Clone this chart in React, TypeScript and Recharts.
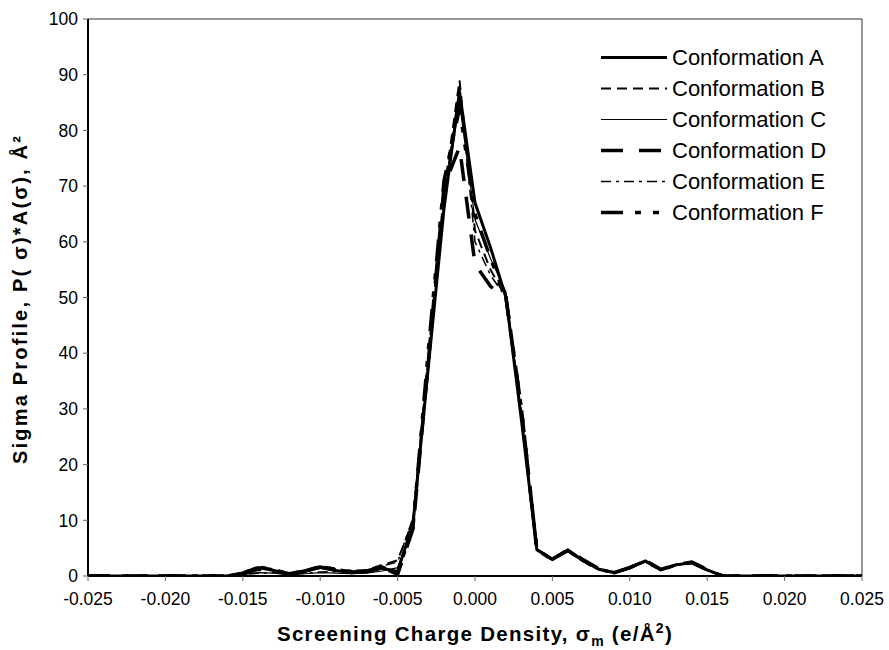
import React from "react";
import { LineChart, Line, XAxis, YAxis, ReferenceArea, Legend } from "recharts";

// Screening charge density (e/Å²), step 0.001
const sigma: number[] = [
  -0.025, -0.024, -0.023, -0.022, -0.021, -0.02, -0.019, -0.018, -0.017, -0.016,
  -0.015, -0.014, -0.013, -0.012, -0.011, -0.01, -0.009, -0.008, -0.007, -0.006,
  -0.005, -0.004, -0.003, -0.002, -0.001, 0, 0.001, 0.002, 0.003, 0.004,
  0.005, 0.006, 0.007, 0.008, 0.009, 0.01, 0.011, 0.012, 0.013, 0.014,
  0.015, 0.016, 0.017, 0.018, 0.019, 0.02, 0.021, 0.022, 0.023, 0.024, 0.025,
];

const confA: number[] = [
  0, 0, 0, 0, 0, 0, 0, 0, 0, 0,
  0.5, 1.5, 1.0, 0.3, 0.8, 1.5, 1.0, 0.6, 0.7, 1.4,
  0.8, 9.5, 38, 66, 87, 67, 59, 50, 28, 4.7,
  3.0, 4.6, 2.8, 1.2, 0.6, 1.5, 2.7, 1.1, 2.0, 2.4,
  1.1, 0, 0, 0, 0, 0, 0, 0, 0, 0, 0,
];
const confB: number[] = [
  0, 0, 0, 0, 0, 0, 0, 0, 0, 0,
  0.6, 1.7, 1.2, 0.5, 1.0, 1.8, 1.3, 0.9, 1.1, 2.0,
  2.8, 10, 40, 69, 89, 62, 55, 50, 29, 4.8,
  3.2, 4.4, 2.6, 1.2, 0.7, 1.4, 2.6, 1.2, 2.1, 2.3,
  1.0, 0, 0, 0, 0, 0, 0, 0, 0, 0, 0,
];
const confC: number[] = [
  0, 0, 0, 0, 0, 0, 0, 0, 0, 0,
  0.3, 0.6, 0.5, 0.2, 0.4, 0.6, 0.5, 0.4, 0.5, 0.9,
  1.5, 9, 37, 67, 85, 64, 57, 51, 29, 4.6,
  3.1, 4.5, 2.7, 1.3, 0.7, 1.4, 2.5, 1.3, 1.9, 2.3,
  1.0, 0, 0, 0, 0, 0, 0, 0, 0, 0, 0,
];
const confD: number[] = [
  0, 0, 0, 0, 0, 0, 0, 0, 0, 0,
  0.4, 1.2, 0.9, 0.4, 0.9, 1.6, 1.1, 0.7, 0.8, 1.5,
  0.3, 8.5, 39, 70, 77, 56, 52, 50, 30, 4.5,
  3.0, 4.7, 2.9, 1.3, 0.6, 1.5, 2.8, 1.2, 2.0, 2.5,
  1.2, 0, 0, 0, 0, 0, 0, 0, 0, 0, 0,
];
const confE: number[] = [
  0, 0, 0, 0, 0, 0, 0, 0, 0, 0,
  0.3, 0.5, 0.6, 0.3, 0.5, 0.7, 0.8, 1.0, 0.9, 1.8,
  2.5, 10.5, 40, 68, 88, 60, 54, 50, 28, 4.8,
  3.1, 4.4, 2.6, 1.1, 0.6, 1.4, 2.6, 1.2, 2.0, 2.3,
  1.0, 0, 0, 0, 0, 0, 0, 0, 0, 0, 0,
];
const confF: number[] = [
  0, 0, 0, 0, 0, 0, 0, 0, 0, 0,
  0.5, 1.6, 1.1, 0.4, 0.9, 1.7, 1.2, 0.8, 0.9, 1.6,
  0.5, 9, 41, 71, 84, 65, 57, 50, 30, 4.6,
  3.0, 4.6, 2.7, 1.2, 0.6, 1.5, 2.7, 1.1, 2.0, 2.4,
  1.1, 0, 0, 0, 0, 0, 0, 0, 0, 0, 0,
];

const seriesNames: string[] = [
  "Conformation A",
  "Conformation B",
  "Conformation C",
  "Conformation D",
  "Conformation E",
  "Conformation F",
];
const seriesValues: number[][] = [confA, confB, confC, confD, confE, confF];

const xTicks: number[] = [-0.025, -0.02, -0.015, -0.01, -0.005, 0, 0.005, 0.01, 0.015, 0.02, 0.025];
const yTicks: number[] = [0, 10, 20, 30, 40, 50, 60, 70, 80, 90, 100];

const seriesStyles = [
  { width: 3, dash: undefined as string | undefined },
  { width: 2, dash: "10 6" },
  { width: 1.2, dash: undefined },
  { width: 3.5, dash: "22 16" },
  { width: 1.5, dash: "10 5 3 5" },
  { width: 3.5, dash: "22 12 6 12 6 12" },
];

const rows = sigma.map((x, i) => {
  const r: Record<string, number> = { x };
  seriesNames.forEach((n, k) => {
    r[n] = seriesValues[k][i];
  });
  return r;
});

const FONT = "'Liberation Sans', Arial, Helvetica, sans-serif";

const renderLegend = () => (
  <div style={{ fontFamily: FONT }}>
    {seriesNames.map((n, k) => (
      <div key={n} style={{ display: "flex", alignItems: "center", height: 31 }}>
        <svg width={66} height={31} style={{ display: "block" }}>
          <line
            x1={0}
            y1={15.5}
            x2={66}
            y2={15.5}
            stroke="#000"
            strokeWidth={seriesStyles[k].width}
            strokeDasharray={seriesStyles[k].dash}
          />
        </svg>
        <span style={{ fontSize: 22, marginLeft: 5, color: "#000", whiteSpace: "nowrap" }}>{n}</span>
      </div>
    ))}
  </div>
);

const YTitle = () => (
  <text
    x={22}
    y={299}
    transform="rotate(-90 22 299)"
    textAnchor="middle"
    dominantBaseline="middle"
    fontFamily={FONT}
    fontWeight="bold"
    fontSize={20}
    letterSpacing={2.2}
    fill="#000"
  >
    Sigma Profile, P( σ)*A(σ), Å²
  </text>
);

const XTitle = () => (
  <text
    x={475}
    y={641}
    textAnchor="middle"
    fontFamily={FONT}
    fontWeight="bold"
    fontSize={20.5}
    letterSpacing={1.3}
    fill="#000"
  >
    <tspan>Screening Charge Density, σ</tspan>
    <tspan dy={5} fontSize={14}>m</tspan>
    <tspan dy={-5}> (e/Å</tspan>
    <tspan dy={-8} fontSize={14}>2</tspan>
    <tspan dy={8}>)</tspan>
  </text>
);

export default function App() {
  return (
    <div style={{ position: "absolute", left: 0, top: 0, width: 889, height: 650, background: "#fff" }}>
      <LineChart width={889} height={650} data={rows} margin={{ top: 19, right: 27, bottom: 0, left: 0 }}>
        <XAxis
          dataKey="x"
          type="number"
          domain={[-0.025, 0.025]}
          ticks={xTicks}
          tickFormatter={(v: number) => v.toFixed(3)}
          allowDataOverflow
          height={74}
          axisLine={{ stroke: "#000", strokeWidth: 2 }}
          tickLine={{ stroke: "#666" }}
          tickSize={5}
          tickMargin={12}
          tick={{ fill: "#000", fontSize: 17.5, fontFamily: FONT }}
          label={<XTitle />}
        />
        <YAxis
          type="number"
          domain={[0, 100]}
          ticks={yTicks}
          allowDataOverflow
          width={88}
          axisLine={{ stroke: "#000", strokeWidth: 2 }}
          tickLine={{ stroke: "#666" }}
          tickSize={5}
          tickMargin={5}
          tick={{ fill: "#000", fontSize: 17.5, fontFamily: FONT }}
          label={<YTitle />}
        />
        <ReferenceArea x1={-0.025} x2={0.025} y1={0} y2={100} fill="none" stroke="#333" strokeWidth={1} />
        <Legend
          layout="vertical"
          align="center"
          verticalAlign="middle"
          content={renderLegend}
          wrapperStyle={{ position: "absolute", left: 601, top: 42, width: 270, height: 190 }}
        />
        {seriesNames.map((n, k) => (
          <Line
            key={n}
            dataKey={n}
            type="linear"
            stroke="#000"
            strokeWidth={seriesStyles[k].width}
            strokeDasharray={seriesStyles[k].dash}
            dot={false}
            activeDot={false}
            isAnimationActive={false}
          />
        ))}
      </LineChart>
    </div>
  );
}
